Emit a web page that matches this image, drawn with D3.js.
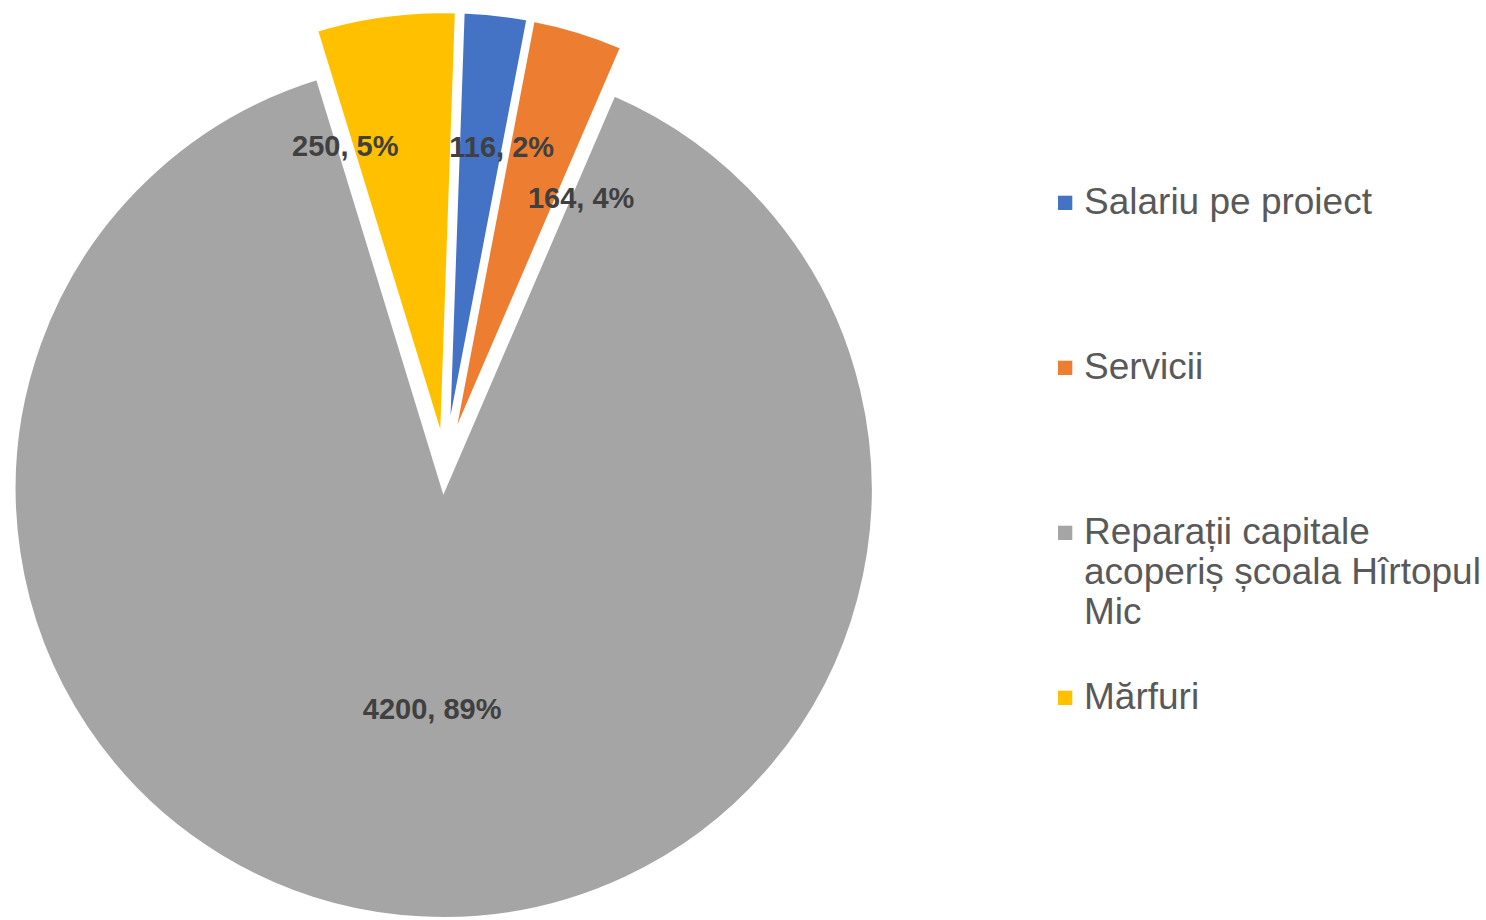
<!DOCTYPE html>
<html>
<head>
<meta charset="utf-8">
<title>Pie</title>
<script src="https://cdn.jsdelivr.net/npm/d3@7"></script>
<style>
  body { margin: 0; background: #fff; }
  svg text { font-family: "Liberation Sans", Arial, sans-serif; }
  .label { font-size: 29px; font-weight: bold; fill: #404040; }
  .legend text { font-size: 37px; fill: #595959; }
</style>
</head>
<body>
<svg width="1486" height="920"></svg>
<script>
var categories = ["Salariu pe proiect", "Servicii", "Reparații capitale acoperiș școala Hîrtopul Mic", "Mărfuri"]
var values = [116, 164, 4200, 250]
var percents = [2, 4, 89, 5]
var colors = ["#4472C4", "#ED7D31", "#A5A5A5", "#FFC000"]

// layout
var cx = 445, cy = 465, radius = 430, explode = 24
var firstAngle = 2 * Math.PI / 180
// label spot per slice: angle (deg) and distance from the slice's own centre
var labelSpots = [[10.4, 299], [27.9, 276], [183, 220], [-18.1, 311]]

var svg = d3.select('svg')

var pie = d3.pie().sort(null)
  .startAngle(firstAngle)
  .endAngle(firstAngle + 2 * Math.PI)
  .value(function(d) { return d })
var arcs = pie(values)
var arc = d3.arc().innerRadius(0).outerRadius(radius)

function sliceCentre(d) {
  var mid = (d.startAngle + d.endAngle) / 2
  return [cx + explode * Math.sin(mid), cy - explode * Math.cos(mid)]
}

svg.append('g').selectAll('path')
  .data(arcs)
  .enter()
  .append('path')
  .attr('d', arc)
  .attr('transform', function(d) {
    var c = sliceCentre(d)
    return 'translate(' + c[0] + ',' + c[1] + ')'
  })
  .attr('fill', function(d, i) { return colors[i] })
  .attr('stroke', '#fff')
  .attr('stroke-width', 4)

svg.append('g').selectAll('text')
  .data(arcs)
  .enter()
  .append('text')
  .classed('label', true)
  .attr('text-anchor', 'middle')
  .attr('dy', '0.35em')
  .attr('x', function(d, i) {
    var c = sliceCentre(d), a = labelSpots[i][0] * Math.PI / 180
    return c[0] + labelSpots[i][1] * Math.sin(a)
  })
  .attr('y', function(d, i) {
    var c = sliceCentre(d), a = labelSpots[i][0] * Math.PI / 180
    return c[1] - labelSpots[i][1] * Math.cos(a)
  })
  .text(function(d, i) { return values[i] + ', ' + percents[i] + '%' })

// legend
var legendX = 1058, legendTop = 214.3, legendStep = 165, lineH = 40, maxW = 402

var item = svg.append('g').classed('legend', true)
  .selectAll('g')
  .data(categories)
  .enter()
  .append('g')
  .attr('transform', function(d, i) { return 'translate(' + legendX + ',' + (legendTop + i * legendStep) + ')' })

item.append('rect')
  .attr('x', 0)
  .attr('y', -18.6)
  .attr('width', 14.3)
  .attr('height', 14.3)
  .attr('fill', function(d, i) { return colors[i] })

item.append('text')
  .attr('x', 26)
  .each(function(d) {
    var t = d3.select(this)
    var words = d.split(' '), line = []
    var tspan = t.append('tspan').attr('x', 26).attr('dy', 0)
    words.forEach(function(w) {
      line.push(w)
      tspan.text(line.join(' '))
      if (tspan.node().getComputedTextLength() > maxW && line.length > 1) {
        line.pop()
        tspan.text(line.join(' '))
        line = [w]
        tspan = t.append('tspan').attr('x', 26).attr('dy', lineH).text(w)
      }
    })
  })
</script>
</body>
</html>
